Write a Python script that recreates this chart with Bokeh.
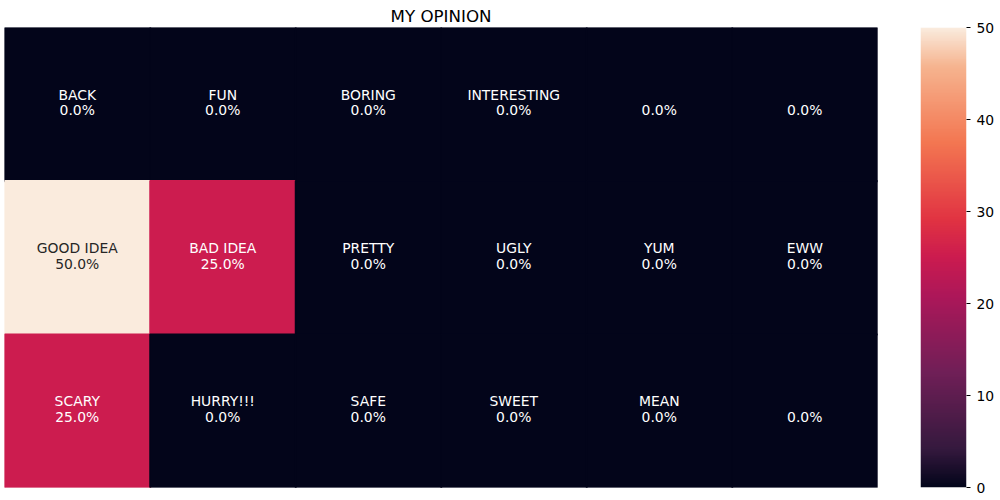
import numpy as np
from bokeh.plotting import figure
from bokeh.layouts import row
from bokeh.models import ColumnDataSource, LinearColorMapper, FixedTicker, Range1d
from bokeh.core.properties import value
from bokeh.transform import transform
from bokeh.embed import file_html
from bokeh.resources import INLINE

# ---- data ----
row_labels = [
    ["BACK", "FUN", "BORING", "INTERESTING", "", ""],
    ["GOOD IDEA", "BAD IDEA", "PRETTY", "UGLY", "YUM", "EWW"],
    ["SCARY", "HURRY!!!", "SAFE", "SWEET", "MEAN", ""],
]
row_values = [
    [0.0, 0.0, 0.0, 0.0, 0.0, 0.0],
    [50.0, 25.0, 0.0, 0.0, 0.0, 0.0],
    [25.0, 0.0, 0.0, 0.0, 0.0, 0.0],
]
cbar_ticks = [0, 10, 20, 30, 40, 50]
title_text = "MY OPINION"

# ---- rocket-like colormap ----
stops = [
    (0.0, "#03051A"), (0.083, "#35193E"), (0.25, "#701F57"), (0.417, "#AD1759"),
    (0.5, "#CB1B4F"), (0.583, "#E13342"), (0.75, "#F37651"), (0.917, "#F6B48F"),
    (1.0, "#FAEBDD"),
]
def hex2rgb(h):
    return [int(h[i:i + 2], 16) for i in (1, 3, 5)]
sp = np.array([s[0] for s in stops])
sc = np.array([hex2rgb(s[1]) for s in stops], dtype=float)
palette = []
for t in np.linspace(0, 1, 256):
    rgb = [int(round(np.interp(t, sp, sc[:, k]))) for k in range(3)]
    palette.append("#%02x%02x%02x" % tuple(rgb))

vmin, vmax = 0, 50
mapper = LinearColorMapper(palette=palette, low=vmin, high=vmax)

xs, ys, labs, pcts, vals, tcols = [], [], [], [], [], []
nrows = len(row_values)
for r in range(nrows):
    for c in range(len(row_values[r])):
        v = row_values[r][c]
        xs.append(c + 0.5)
        ys.append(nrows - r - 0.5)
        labs.append(row_labels[r][c])
        pcts.append("%.1f%%" % v)
        vals.append(v)
        tcols.append("#262626" if v / vmax > 0.6 else "white")
src = ColumnDataSource(dict(x=xs, y=ys, lab=labs, pct=pcts, v=vals, tc=tcols))

FONT = "DejaVu Sans"

p = figure(width=890, height=500, output_backend="svg", toolbar_location=None,
           x_range=Range1d(0, 6), y_range=Range1d(0, 3),
           min_border_left=4, min_border_top=0, min_border_bottom=13, min_border_right=13)
p.rect(x="x", y="y", width=1, height=1, source=src, dilate=True,
       fill_color=transform("v", mapper), line_color=transform("v", mapper), line_width=1.5)
p.text(x="x", y="y", text="lab", source=src, text_color="tc", y_offset=-9.5,
       text_align="center", text_baseline="middle", text_font_size="13.9px",
       text_font=value(FONT))
p.text(x="x", y="y", text="pct", source=src, text_color="tc", y_offset=6,
       text_align="center", text_baseline="middle", text_font_size="13.9px",
       text_font=value(FONT))

p.axis.visible = False
p.grid.visible = False
p.outline_line_color = None

p.title.text = title_text
p.title.align = "center"
p.title.text_font = FONT
p.title.text_font_size = "16.7px"
p.title.text_font_style = "normal"
p.title.text_color = "black"
p.title.offset = 0
p.title.standoff = 4

# ---- colorbar as its own figure ----
cb = figure(width=110, height=500, output_backend="svg", toolbar_location=None,
            x_range=Range1d(0, 1), y_range=Range1d(vmin, vmax), y_axis_location="right",
            min_border_left=30, min_border_right=34, min_border_top=27, min_border_bottom=13)
grad = np.linspace(vmin, vmax, 512).reshape(512, 1)
cb.image(image=[grad], x=0, y=vmin, dw=1, dh=vmax - vmin, color_mapper=mapper)
cb.xaxis.visible = False
cb.grid.visible = False
cb.outline_line_color = None
cb.yaxis.ticker = FixedTicker(ticks=cbar_ticks)
cb.yaxis.axis_line_color = None
cb.yaxis.major_tick_out = 4
cb.yaxis.major_tick_in = 0
cb.yaxis.minor_tick_line_color = None
cb.yaxis.major_tick_line_color = "black"
cb.yaxis.major_label_standoff = 6
cb.yaxis.major_label_text_font = FONT
cb.yaxis.major_label_text_font_size = "13.9px"
cb.yaxis.major_label_text_color = "black"

layout = row(p, cb)
open("out.html", "w").write(file_html(layout, INLINE))
